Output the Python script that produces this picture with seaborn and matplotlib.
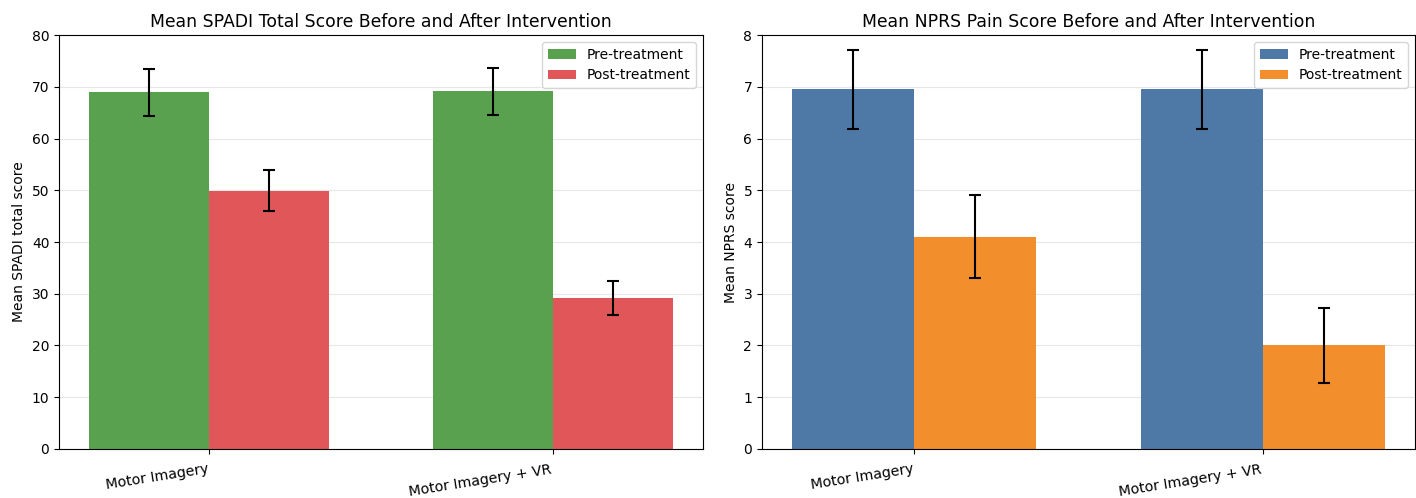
import pandas as pd
import seaborn as sns
from matplotlib import pyplot as plt

# data
groups = ['Motor Imagery', 'Motor Imagery + VR']
phases = ['Pre-treatment', 'Post-treatment']

spadi_pre = [68.9, 69.1]
spadi_post = [49.9, 29.2]
spadi_pre_sd = [4.5, 4.5]
spadi_post_sd = [4.0, 3.3]

nprs_pre = [6.95, 6.95]
nprs_post = [4.1, 2.0]
nprs_pre_sd = [0.76, 0.76]
nprs_post_sd = [0.8, 0.73]


def make_df(pre, post):
    rows = []
    for g, v in zip(groups, pre):
        rows.append({'group': g, 'phase': phases[0], 'score': v})
    for g, v in zip(groups, post):
        rows.append({'group': g, 'phase': phases[1], 'score': v})
    return pd.DataFrame(rows)


def draw(ax, df, errs, colors, title, ylabel, ymax):
    sns.barplot(data=df, x='group', y='score', hue='phase', hue_order=phases,
                order=groups, palette=colors, errorbar=None, width=0.7,
                saturation=1, ax=ax, zorder=2)
    # custom error bars on top of each bar
    for cont, err in zip(ax.containers, errs):
        xs = [b.get_x() + b.get_width() / 2 for b in cont]
        ys = [b.get_height() for b in cont]
        ax.errorbar(xs, ys, yerr=err, fmt='none', ecolor='black',
                    elinewidth=1.5, capsize=4, capthick=1.5, zorder=3)
    ax.set_title(title, fontsize=12.4)
    ax.set_xlabel('')
    ax.set_ylabel(ylabel, fontsize=10)
    ax.set_ylim(0, ymax)
    ax.set_xlim(-0.437, 1.437)
    ax.grid(axis='y', alpha=0.3, zorder=0)
    ax.set_axisbelow(True)
    plt.setp(ax.get_xticklabels(), rotation=9, ha='right', fontsize=10.2)
    ax.tick_params(axis='x', pad=6)
    ax.tick_params(axis='y', labelsize=10)
    ax.legend(loc='upper right', fontsize=10)


fig = plt.figure(figsize=(14.16, 4.98), dpi=100)
ax1 = fig.add_axes([0.0417, 0.0984, 0.4548, 0.8313])
ax2 = fig.add_axes([0.5381, 0.0984, 0.4612, 0.8313])

draw(ax1, make_df(spadi_pre, spadi_post), [spadi_pre_sd, spadi_post_sd],
     ['#59A14F', '#E15759'],
     'Mean SPADI Total Score Before and After Intervention',
     'Mean SPADI total score', 80)
draw(ax2, make_df(nprs_pre, nprs_post), [nprs_pre_sd, nprs_post_sd],
     ['#4E79A7', '#F28E2B'],
     'Mean NPRS Pain Score Before and After Intervention',
     'Mean NPRS score', 8)

plt.savefig('out.png', dpi=100)
